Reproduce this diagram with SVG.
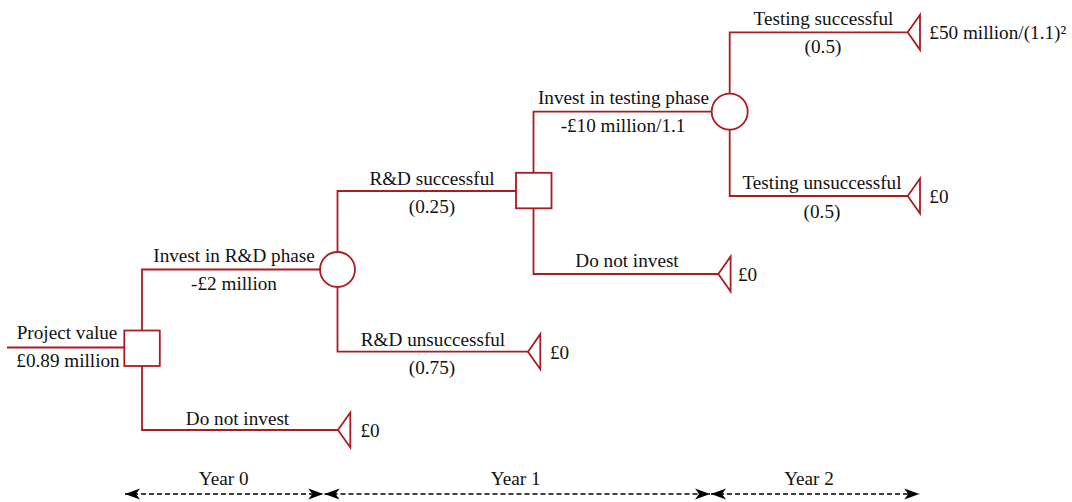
<svg xmlns="http://www.w3.org/2000/svg" width="1072" height="502" viewBox="0 0 1072 502">
  <style>
    .edge { fill: none; stroke: #a81c22; stroke-width: 1.8; }
    .node { fill: #ffffff; stroke: #a81c22; stroke-width: 1.8; }
    .lbl { font-family: "Liberation Serif", "Times New Roman", serif; font-size: 19.2px; fill: #111111; }
    .mid { text-anchor: middle; }
    .axis { fill: none; stroke: #000000; stroke-width: 1.6; stroke-dasharray: 5 3; }
  </style>
  <defs>
    <marker id="stealth" viewBox="-16 -7 17 14" refX="0" refY="0" markerWidth="17" markerHeight="14" markerUnits="userSpaceOnUse" orient="auto-start-reverse">
      <path d="M0,0 L-15,-5.5 L-11,0 L-15,5.5 Z" fill="#000000"/>
    </marker>
  </defs>
  <rect width="1072" height="502" fill="#ffffff"/>

  <!-- connectors (branches of the tree) -->
  <g id="connectors">
    <line class="edge" x1="7" y1="347.5" x2="124" y2="347.5"/>
    <polyline class="edge" points="320,269.5 142,269.5 142,430 338,430"/>
    <polyline class="edge" points="516,191 337.5,191 337.5,252"/>
    <polyline class="edge" points="337.5,287 337.5,351.7 528,351.7"/>
    <polyline class="edge" points="711.7,111.7 533.5,111.7 533.5,173"/>
    <polyline class="edge" points="533.5,208 533.5,274 718.3,274"/>
    <polyline class="edge" points="729.7,93.7 729.7,32.3 907.7,32.3"/>
    <polyline class="edge" points="729.7,129.7 729.7,196 907.7,196"/>
  </g>

  <!-- root decision -->
  <g id="decision-rd">
    <rect class="node" x="124.3" y="330.5" width="35.5" height="35.5"/>
    <text class="lbl mid" x="67" y="339.3">Project value</text>
    <text class="lbl mid" x="68" y="366.7">£0.89 million</text>
  </g>

  <!-- chance node: R&D outcome -->
  <g id="chance-rd">
    <circle class="node" cx="337.5" cy="269.5" r="17.5"/>
  </g>

  <!-- decision: testing phase -->
  <g id="decision-testing">
    <rect class="node" x="516" y="172.8" width="35.5" height="35.5"/>
  </g>

  <!-- chance node: testing outcome -->
  <g id="chance-testing">
    <circle class="node" cx="729.7" cy="111.7" r="18"/>
  </g>

  <!-- terminal payoffs -->
  <g id="end-no-rd">
    <polygon class="node" points="338,430 350.3,412.5 350.3,447.5"/>
    <text class="lbl" x="360.5" y="436.5">£0</text>
  </g>
  <g id="end-rd-fail">
    <polygon class="node" points="528,351.7 540.3,334.2 540.3,369.2"/>
    <text class="lbl" x="550" y="358.5">£0</text>
  </g>
  <g id="end-no-test">
    <polygon class="node" points="718.3,274 730.6,256.5 730.6,291.5"/>
    <text class="lbl" x="738" y="281">£0</text>
  </g>
  <g id="end-test-ok">
    <polygon class="node" points="907.7,32.3 920,14.8 920,49.8"/>
    <text class="lbl" x="929.3" y="39.3">£50 million/(1.1)²</text>
  </g>
  <g id="end-test-fail">
    <polygon class="node" points="907.7,196 920,178.5 920,213.5"/>
    <text class="lbl" x="929.3" y="203.3">£0</text>
  </g>

  <!-- branch labels -->
  <g id="branch-labels">
    <text class="lbl mid" x="234" y="262">Invest in R&amp;D phase</text>
    <text class="lbl mid" x="234" y="289.5">-£2 million</text>
    <text class="lbl mid" x="237.5" y="425">Do not invest</text>
    <text class="lbl mid" x="432" y="185">R&amp;D successful</text>
    <text class="lbl mid" x="432" y="213.3">(0.25)</text>
    <text class="lbl mid" x="433" y="345.7">R&amp;D unsuccessful</text>
    <text class="lbl mid" x="432" y="374">(0.75)</text>
    <text class="lbl mid" x="623.5" y="104">Invest in testing phase</text>
    <text class="lbl mid" x="623" y="131.7">-£10 million/1.1</text>
    <text class="lbl mid" x="627" y="267">Do not invest</text>
    <text class="lbl mid" x="823.5" y="25">Testing successful</text>
    <text class="lbl mid" x="823" y="53.3">(0.5)</text>
    <text class="lbl mid" x="822" y="189">Testing unsuccessful</text>
    <text class="lbl mid" x="822" y="218.3">(0.5)</text>
  </g>

  <!-- time axis -->
  <g id="timeline">
    <line class="axis" x1="125" y1="494" x2="323.3" y2="494" marker-start="url(#stealth)" marker-end="url(#stealth)"/>
    <line class="axis" x1="324.5" y1="494" x2="710" y2="494" marker-start="url(#stealth)" marker-end="url(#stealth)"/>
    <line class="axis" x1="711" y1="494" x2="919.3" y2="494" marker-start="url(#stealth)" marker-end="url(#stealth)"/>
    <text class="lbl mid" x="223.7" y="485">Year 0</text>
    <text class="lbl mid" x="515.7" y="485">Year 1</text>
    <text class="lbl mid" x="809" y="485">Year 2</text>
  </g>
</svg>
